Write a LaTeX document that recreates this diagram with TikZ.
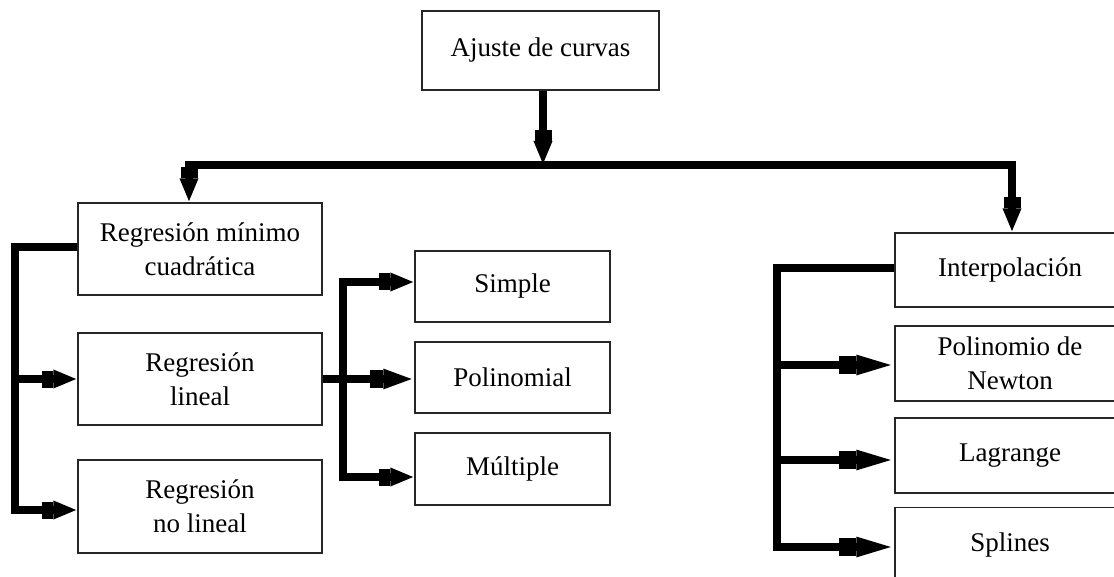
\documentclass[tikz,border=0pt]{standalone}
\usepackage{fontspec}
\setmainfont{Liberation Serif}
\usetikzlibrary{arrows.meta}
\tikzset{
  smallhead/.tip={Rectangle[length=11pt,width=17pt,sep=0pt] Triangle[length=24pt,width=17pt]},
  midhead/.tip={Rectangle[length=13pt,width=18pt,sep=0pt] Triangle[length=31pt,width=18pt]},
  bighead/.tip={Rectangle[length=17pt,width=18pt,sep=0pt] Triangle[length=38pt,width=18pt]},
  box/.style={draw=black!85,line width=1.3pt,fill=white,inner sep=0pt,align=center,
    font=\fontsize{27}{34}\selectfont},
  conn/.style={line width=8pt,line join=miter}
}
\begin{document}
\begin{tikzpicture}[x=1pt,y=-1pt]
\path[use as bounding box,clip] (0,0) rectangle (1114,577);
% boxes
\node[box,minimum width=237pt,minimum height=79pt] (top) at (540.5,50.5) {Ajuste de curvas};
\node[box,minimum width=244pt,minimum height=92pt] (rmc) at (200,249) {Regresión mínimo\\cuadrática};
\node[box,minimum width=244pt,minimum height=92pt] (rl) at (200,379) {Regresión\\lineal};
\node[box,minimum width=244pt,minimum height=93pt] (rnl) at (200,506.5) {Regresión\\no lineal};
\node[box,minimum width=195pt,minimum height=71pt] (sim) at (512.5,286.5) {Simple};
\node[box,minimum width=195pt,minimum height=71pt] (pol) at (512.5,377.5) {Polinomial};
\node[box,minimum width=195pt,minimum height=72pt] (mul) at (512.5,469) {Múltiple};
\node[box,minimum width=230pt,minimum height=74pt] (int) at (1010,270) {Interpolación};
\node[box,minimum width=230pt,minimum height=75pt] (new) at (1010,363.5) {Polinomio de\\Newton};
\node[box,minimum width=230pt,minimum height=75pt] (lag) at (1010,455.5) {Lagrange};
\node[box,minimum width=230pt,minimum height=75pt] (spl) at (1010,545) {Splines};
% junction points
\coordinate (j) at (543,165);
\coordinate (jl) at (189,165);
\coordinate (jr) at (1012,165);
\coordinate (l1) at (15,247);
\coordinate (l2) at (15,379);
\coordinate (l3) at (15,510);
\coordinate (m1) at (343,282);
\coordinate (m2) at (343,477);
\coordinate (r1) at (777,268);
\coordinate (r2) at (777,365);
\coordinate (r3) at (777,460);
\coordinate (r4) at (777,547);
% connectors
\draw[conn,-smallhead] (top.south -| j) -- (j);
\draw[conn,line cap=rect] (jl) -- (jr);
\draw[conn,-smallhead] (jl) -- (jl |- rmc.north);
\draw[conn,-smallhead] (jr) -- (jr |- int.north);
\draw[conn,-smallhead] (rmc.west |- l1) -- (l1) -- (l3) -- (l3 -| rnl.west);
\draw[conn,-smallhead] (l2) -- (l2 -| rl.west);
\draw[conn,-midhead] (rl.east) -- (rl.east -| pol.west);
\draw[conn,smallhead-smallhead] (m1 -| sim.west) -- (m1) -- (m2) -- (m2 -| mul.west);
\draw[conn,-bighead] (int.west |- r1) -- (r1) -- (r4) -- (r4 -| spl.west);
\draw[conn,-bighead] (r2) -- (r2 -| new.west);
\draw[conn,-bighead] (r3) -- (r3 -| lag.west);
\end{tikzpicture}
\end{document}
